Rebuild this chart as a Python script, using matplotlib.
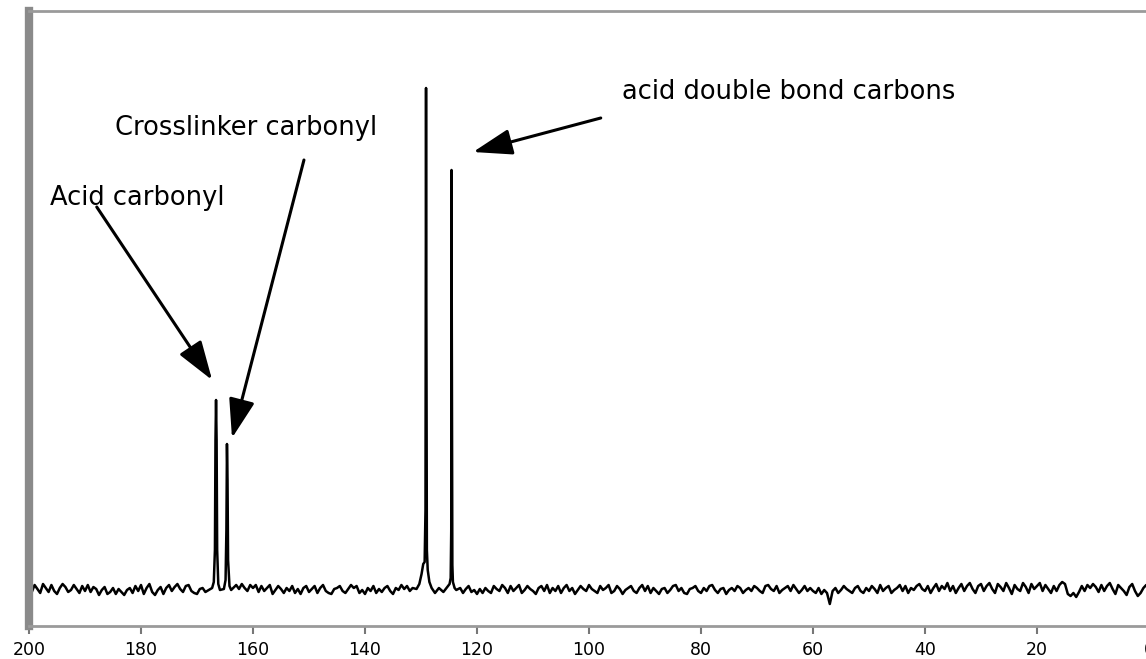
import numpy as np
import matplotlib
matplotlib.use('Agg')
import matplotlib.pyplot as plt

# 13C NMR spectrum (intensity in arbitrary units, baseline = 0)
step = 0.5
baseline_start = 200.0
baseline_noise = [
    3, -2, 5, 1, -3, 6, 2, -2, 5, -1, -4, 2, 6, 3, -2, 0, 5, 1, -3, 4,
    -1, 5, -2, 3, 1, -5, 0, 3, -4, -2, 2, -4, 1, -2, -5, 0, 2, -3, 4, -1,
    5, -4, 2, 6, -2, -5, 0, 3, -4, 2, 5, -1, 3, 6, 1, -2, 4, 5, -1, -3,
    -4, 1, 2, -2, 0, 0, 0, 0, 0, 0, 0, 0, 0, 0, 5, 1, 6, 2, -1, 5,
    2, 5, -2, 4, -1, 2, 5, -4, 0, 4, 1, -3, 2, -1, 4, -3, 1, -4, 2, 4,
    -2, 1, 4, -3, 2, 5, -1, -3, -4, 1, 2, 4, -1, -3, 1, 5, 2, 4, -3, 0,
    -4, 2, -1, 4, -3, 1, -2, 2, 4, -1, -4, 2, 0, 5, 1, 4, -1, 2, 0, 0,
    0, 0, 0, 0, 0, 0, 0, 0, 0, 0, 0, 0, 0, 0, 2, -3, 1, 4, -2, 0,
    -4, 1, -3, 2, -1, -3, 4, 1, -1, 5, 2, -3, 4, -1, 2, 5, -3, 0, 4, 1,
    -1, -4, 2, 4, -1, 5, -3, 2, -1, 4, -3, 2, 5, -1, 2, -4, 0, 4, 1, -1,
    5, 1, -1, -3, 4, 0, 2, 5, -3, -1, 4, 1, -4, 0, 2, 4, -1, -3, 2, 5,
    -1, 4, -3, 2, -1, -4, 1, 2, -3, 0, 4, 5, -1, 2, -3, -4, 1, 2, 4, -1,
    -3, 2, -1, 4, 5, 0, -3, 1, 2, -4, 0, 2, -1, 4, 2, -3, 0, 2, -1, 4,
    2, -1, -3, 4, 5, 1, -1, 4, -3, 0, 2, 4, -1, 5, 1, -3, 0, 4, -1, 2,
    -1, -3, 2, -4, 0, -3, -14, -1, 2, -3, 0, 4, 1, -1, -3, 2, 4, -1, -3, 2,
    -1, 4, 1, -3, 5, -1, 2, 4, -3, 0, 2, 5, -1, 4, -3, 2, 0, 4, 6, 1,
    -1, 4, -3, 2, 6, -1, 4, 1, 7, -1, 4, -3, 2, 6, -1, 4, 7, 1, -3, 4,
    6, -1, 4, 7, 1, -3, 6, 3, -1, 7, 2, -4, 5, 1, -1, 7, 3, -3, 6, 1,
    4, 7, -1, 5, 1, -3, 4, -1, 5, 8, 6, -4, -6, -3, -7, -2, 4, -1, 5, 2,
    6, 3, -2, 5, -1, 4, 7, 1, -4, 5, 2, -1, -5, 3, 6, -1, -6, -3, 2, 5,
    3,
]

# ppm windows where the peaks replace the baseline
peak_windows = [(163.5, 168.0), (123.5, 131.0)]

# carbonyl region: acid C=O (~166.6) and crosslinker C=O (~164.6)
carbonyl_ppm = [167.3, 167.0, 166.8, 166.7, 166.6, 166.5, 166.4, 166.2, 165.9,
                165.2, 164.9, 164.75, 164.65, 164.55, 164.45, 164.2, 163.9]
carbonyl_int = [2, 8, 40, 150, 190, 150, 40, 6, 0,
                1, 10, 60, 146, 110, 30, 4, 0]

# olefinic region: acid double bond carbons (~129.1 and ~124.5)
olefin_ppm = [130.8, 130.3, 129.9, 129.6, 129.35, 129.2, 129.15, 129.1, 129.05, 128.95,
              128.8, 128.5, 128.1, 127.5, 126.8, 126.0, 125.3, 124.9, 124.7, 124.6,
              124.55, 124.5, 124.4, 124.3, 124.0, 123.7]
olefin_int = [1, 6, 16, 26, 28, 80, 300, 502, 300, 40,
              20, 8, 2, -3, 2, -2, 3, 6, 12, 60,
              420, 260, 25, 8, 2, 0]

labels = ["Acid carbonyl", "Crosslinker carbonyl", "acid double bond carbons"]
xticks = [200, 180, 160, 140, 120, 100, 80, 60, 40, 20, 0]

# assemble the trace
base_ppm = baseline_start - step * np.arange(len(baseline_noise))
base_int = np.array(baseline_noise, dtype=float)
keep = np.ones(len(base_ppm), dtype=bool)
for lo, hi in peak_windows:
    keep &= ~((base_ppm >= lo) & (base_ppm <= hi))
ppm = np.concatenate([base_ppm[keep], carbonyl_ppm, olefin_ppm])
inten = np.concatenate([base_int[keep], carbonyl_int, olefin_int])
order = np.argsort(-ppm)
ppm, inten = ppm[order], inten[order]

W, H = 1146, 659
fig = plt.figure(figsize=(W / 100, H / 100), dpi=100)
ax = fig.add_axes([29 / W, 33 / H, 1120 / W, 615 / H])

ax.plot(ppm, inten, color='black', lw=1.8)
ax.set_xlim(200, 0)
ax.set_ylim(-36, 579)

ax.set_xticks(xticks)
ax.set_xticklabels([str(t) for t in xticks])
ax.set_yticks([])
ax.tick_params(axis='x', direction='out', length=6, width=1.5, color='#777777',
               pad=5, labelsize=12.5)

ax.spines['left'].set_linewidth(6)
ax.spines['left'].set_color('#8a8a8a')
for s in ['top', 'bottom']:
    ax.spines[s].set_linewidth(2)
    ax.spines[s].set_color('#9a9a9a')
ax.spines['right'].set_visible(False)

arrow = dict(arrowstyle='-|>,head_length=1.2,head_width=0.4', color='black',
             lw=2.2, shrinkA=0, shrinkB=0, mutation_scale=20)

ax.text(196.25, 392, labels[0], fontsize=18.5, ha='left', va='center')
ax.annotate('', xy=(167.3, 210), xytext=(187.9, 383), arrowprops=arrow)

ax.text(184.6, 462, labels[1], fontsize=18.5, ha='left', va='center')
ax.annotate('', xy=(163.75, 152), xytext=(150.9, 430), arrowprops=arrow)

ax.text(94.1, 498, labels[2], fontsize=18.5, ha='left', va='center')
ax.annotate('', xy=(120.7, 438), xytext=(97.9, 472), arrowprops=arrow)

fig.savefig('out.png', dpi=100)
